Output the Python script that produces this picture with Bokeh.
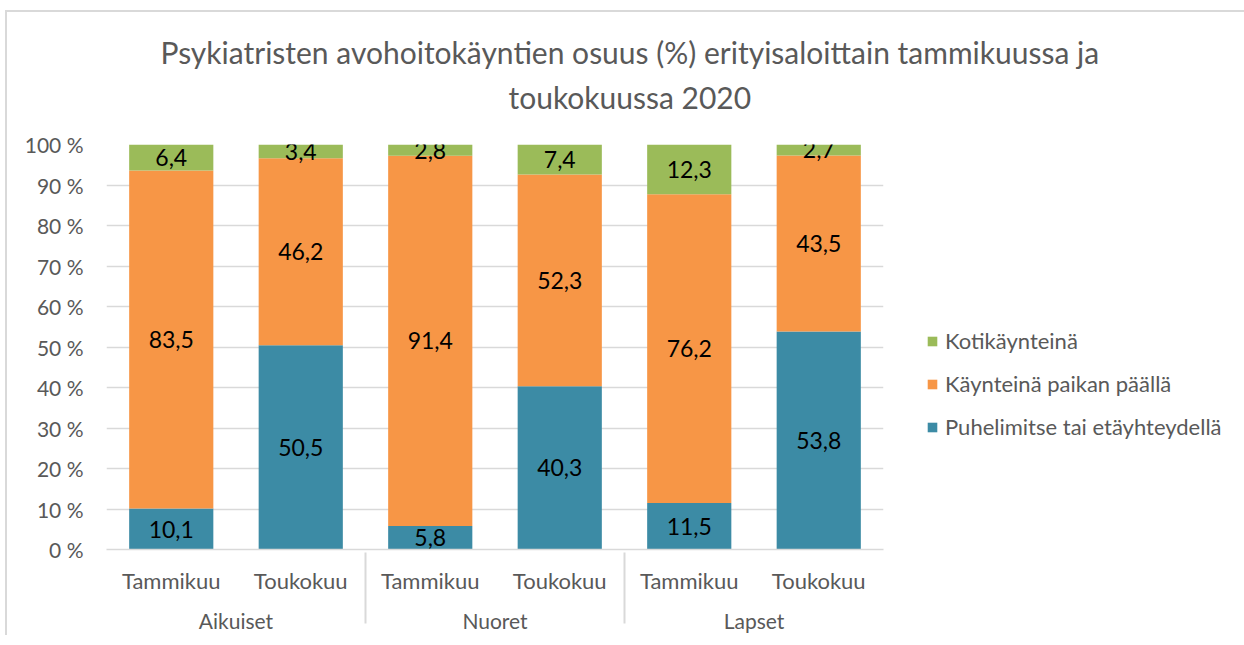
from bokeh.plotting import figure
from bokeh.models import (FactorRange, Range1d, Legend, LegendItem, FixedTicker,
                          ColumnDataSource, Title)
from bokeh.embed import file_html
from bokeh.resources import INLINE
from bokeh.core.properties import value

# ---------------- data ----------------
groups = ["Aikuiset", "Nuoret", "Lapset"]
months = ["Tammikuu", "Toukokuu"]
series_names = ["Puhelimitse tai etäyhteydellä", "Käynteinä paikan päällä", "Kotikäynteinä"]
puhelin = [10.1, 50.5, 5.8, 40.3, 11.5, 53.8]
paikan = [83.5, 46.2, 91.4, 52.3, 76.2, 43.5]
koti = [6.4, 3.4, 2.8, 7.4, 12.3, 2.7]
y_ticks = [0, 10, 20, 30, 40, 50, 60, 70, 80, 90, 100]
y_tick_labels = ["0 %", "10 %", "20 %", "30 %", "40 %", "50 %", "60 %", "70 %", "80 %", "90 %", "100 %"]
title_lines = ["Psykiatristen avohoitokäyntien osuus (%) erityisaloittain tammikuussa ja",
               "toukokuussa 2020"]

colors = ["#3C8BA5", "#F79646", "#9BBB59"]
FONT = "Lato"
GRAY = "#595959"

# ---------------- derived ----------------
factors = [(g, m) for g in groups for m in months]
series = [puhelin, paikan, koti]
totals = [sum(v) for v in zip(*series)]
shares = [[v / t * 100 for v, t in zip(s, totals)] for s in series]

src = ColumnDataSource(dict(x=factors, s0=shares[0], s1=shares[1], s2=shares[2]))

lx, ly, lt = [], [], []
for i, f in enumerate(factors):
    base = 0.0
    for k in range(3):
        h = shares[k][i]
        lx.append(f)
        ly.append(base + h / 2)
        lt.append(f"{series[k][i]:.1f}".replace(".", ","))
        base += h
lab_src = ColumnDataSource(dict(x=lx, y=ly, t=lt))

# ---------------- figure ----------------
p = figure(frame_width=777, frame_height=405, title=None,
           x_range=FactorRange(factors=factors, range_padding=0, group_padding=0,
                               factor_padding=0),
           y_range=Range1d(0, 100),
           output_backend="svg", toolbar_location=None,
           min_border_left=99, min_border_top=132, min_border_right=345,
           min_border_bottom=84)
p.outline_line_color = None
p.background_fill_color = "white"
p.border_fill_color = "white"

rs = p.vbar_stack(["s0", "s1", "s2"], x="x", width=0.65, color=colors,
                  line_color=None, source=src)

p.text(x="x", y="y", text="t", source=lab_src, text_align="center",
       text_baseline="middle", text_font=value(FONT), text_font_size="23px",
       text_color="black")

# y axis
p.yaxis.ticker = FixedTicker(ticks=y_ticks)
p.ygrid.ticker = FixedTicker(ticks=y_ticks)
p.yaxis.major_label_overrides = {t: l for t, l in zip(y_ticks, y_tick_labels)}
p.yaxis.axis_line_color = None
p.yaxis.major_tick_line_color = None
p.yaxis.minor_tick_line_color = None
p.yaxis.major_label_standoff = 17
p.yaxis.major_label_text_font = FONT
p.yaxis.major_label_text_font_size = "21px"
p.yaxis.major_label_text_color = GRAY
p.ygrid.grid_line_color = "#D9D9D9"
p.ygrid.grid_line_width = 1.5
p.xgrid.grid_line_color = None

# x axis
xa = p.xaxis[0]
xa.axis_line_color = "#D9D9D9"
xa.axis_line_width = 1.5
xa.major_tick_line_color = None
xa.major_label_text_font = FONT
xa.major_label_text_font_size = "22px"
xa.major_label_text_color = GRAY
xa.major_label_standoff = 11
xa.group_text_font = FONT
xa.group_text_font_size = "21px"
xa.group_text_color = GRAY
xa.group_text_font_style = "normal"
xa.separator_line_color = "#D9D9D9"
xa.separator_line_width = 2

# title (two centred lines)
t2 = Title(text=title_lines[1], align="left", offset=402, standoff=0,
           padding=(0, 0, 0, 30),
           text_font=FONT, text_font_size="30px", text_color=GRAY,
           text_font_style="normal")
t1 = Title(text=title_lines[0], align="left", offset=54, standoff=0,
           padding=(0, 0, 0, 7),
           text_font=FONT, text_font_size="30px", text_color=GRAY,
           text_font_style="normal")
p.add_layout(t2, "above")
p.add_layout(t1, "above")

# legend
items = [LegendItem(label=series_names[k], renderers=[rs[k]]) for k in (2, 1, 0)]
legend = Legend(items=items, location=(43, 109), padding=0, margin=0,
                border_line_color=None, background_fill_alpha=0,
                glyph_width=12, glyph_height=12, label_standoff=7,
                label_height=20, spacing=16,
                label_text_font=FONT, label_text_font_size="22px",
                label_text_color=GRAY)
p.add_layout(legend, "right")

p.styles = {"margin-left": "5px", "margin-top": "10px",
            "border-left": "2px solid #D9D9D9", "border-top": "2px solid #D9D9D9"}

open("out.html", "w").write(file_html(p, INLINE))
